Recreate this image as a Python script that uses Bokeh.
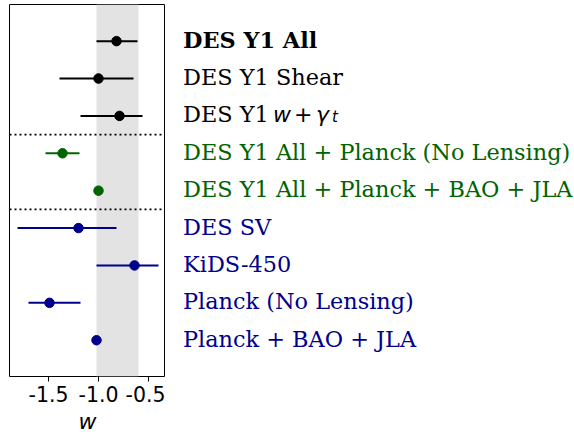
from bokeh.plotting import figure
from bokeh.layouts import row
from bokeh.models import Range1d, FixedTicker, PrintfTickFormatter, BoxAnnotation, Span, ColumnDataSource
from bokeh.core.properties import value
from bokeh.embed import file_html
from bokeh.resources import INLINE

labels = ["DES Y1 All", "DES Y1 Shear", "DES Y1", "DES Y1 All + Planck (No Lensing)",
          "DES Y1 All + Planck + BAO + JLA", "DES SV", "KiDS-450", "Planck (No Lensing)",
          "Planck + BAO + JLA"]
w_mean = [-0.82, -1.00, -0.79, -1.36, -1.00, -1.20, -0.64, -1.49, -1.02]
w_lo = [-1.02, -1.39, -1.18, -1.53, -1.04, -1.81, -1.02, -1.70, -1.05]
w_hi = [-0.61, -0.65, -0.56, -1.19, -0.96, -0.82, -0.40, -1.18, -0.99]
groups = ["DES Y1", "DES Y1", "DES Y1", "combined", "combined", "external", "external", "external", "external"]
group_colors = {"DES Y1": "#000000", "combined": "#006400", "external": "#00008B"}
band_lo, band_hi = -1.02, -0.60
separators = [2.5, 4.5]
ticks = [-1.5, -1.0, -0.5]

rows_y = list(range(len(labels)))
colors = [group_colors[g] for g in groups]
styles = ["bold"] + ["normal"] * (len(labels) - 1)

FRAME_H = 372
yr = Range1d(start=8.97, end=-0.98)

p = figure(width=157, frame_width=156, frame_height=FRAME_H, x_range=Range1d(-1.89, -0.33),
           y_range=yr, output_backend="svg", toolbar_location=None, y_axis_location=None,
           min_border_left=1, min_border_right=0, min_border_top=0)
p.xgrid.visible = False
p.ygrid.visible = False
p.outline_line_color = "#000000"
p.outline_line_width = 1
p.add_layout(BoxAnnotation(left=band_lo, right=band_hi, fill_color="#e3e3e3", fill_alpha=1,
                           line_color=None, level="underlay"))
for s in separators:
    p.add_layout(Span(location=s, dimension="width", line_color="black", line_width=1.6,
                      line_dash="2 3"))
src = ColumnDataSource(dict(y=rows_y, m=w_mean, lo=w_lo, hi=w_hi, c=colors))
p.segment(x0="lo", x1="hi", y0="y", y1="y", line_color="c", line_width=2, source=src)
p.scatter(x="m", y="y", size=9.5, fill_color="c", line_color="c", source=src)

ax = p.xaxis[0]
ax.ticker = FixedTicker(ticks=ticks)
ax.formatter = PrintfTickFormatter(format="%.1f")
ax.minor_tick_line_color = None
ax.major_tick_in = 0
ax.major_tick_out = 5
ax.major_label_text_font = "DejaVu Sans"
ax.major_label_text_font_size = "20.5px"
ax.major_label_text_color = "black"
ax.major_label_standoff = 4
ax.axis_label = "w"
ax.axis_label_text_font = "DejaVu Sans"
ax.axis_label_text_font_style = "italic"
ax.axis_label_text_font_size = "22px"
ax.axis_label_text_color = "black"
ax.axis_label_standoff = 4
ax.axis_line_color = None

Q_W = 408
q = figure(width=Q_W, frame_width=Q_W, frame_height=FRAME_H, x_range=Range1d(0, Q_W), y_range=yr,
           output_backend="svg", toolbar_location=None, x_axis_location=None, y_axis_location=None,
           min_border_left=0, min_border_right=0, min_border_top=0, min_border_bottom=0)
q.outline_line_color = None
q.xgrid.visible = False
q.ygrid.visible = False
X0 = 17.5
YB = -0.04
tsrc = ColumnDataSource(dict(x=[X0] * len(labels), y=[v + YB for v in rows_y], t=labels,
                             c=colors, st=styles))
q.text(x="x", y="y", text="t", text_color="c", text_font_style="st", text_font=value("DejaVu Serif"),
       text_font_size="22.4px", text_baseline="alphabetic", source=tsrc)
# math part of row 3: w + gamma_t
q.text(x=[X0 + 90, X0 + 111, X0 + 133], y=[2 + YB] * 3, text=["w", "+", "γ"], text_font=value("DejaVu Sans"),
       text_font_style=["italic", "normal", "italic"], text_font_size="22px", text_color="black",
       text_baseline="alphabetic")
q.text(x=[X0 + 149], y=[2 + YB + 0.07], text=["t"], text_font=value("DejaVu Sans"), text_font_style="italic",
       text_font_size="15px", text_color="black", text_baseline="alphabetic")

layout = row(p, q, margin=(4, 0, 0, 8))
open("out.html", "w").write(file_html(layout, INLINE))
